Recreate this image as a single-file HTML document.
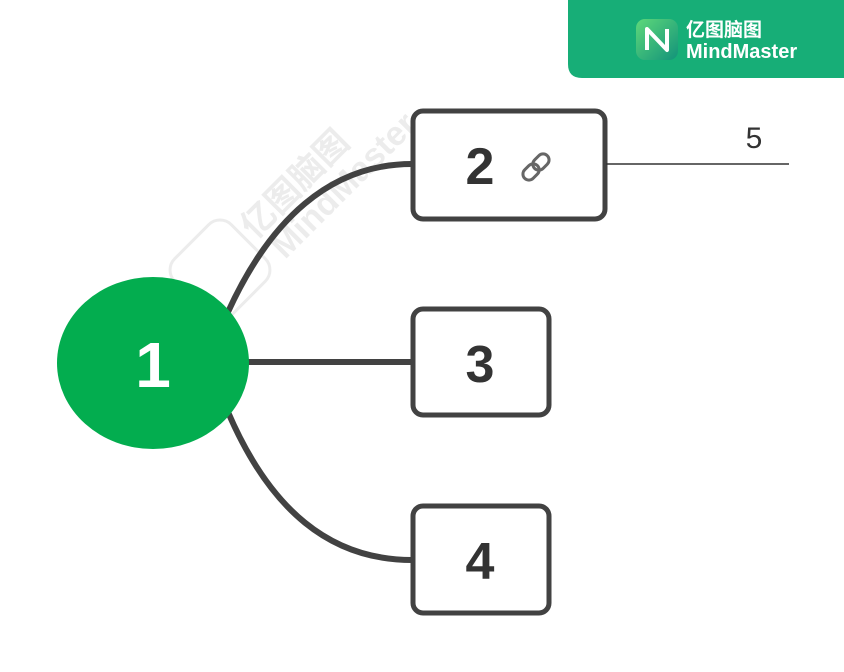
<!DOCTYPE html>
<html><head><meta charset="utf-8"><style>
html,body{margin:0;padding:0;background:#fff;width:844px;height:672px;overflow:hidden;font-family:"Liberation Sans","Noto Sans CJK SC",sans-serif}
</style></head><body>
<svg width="844" height="672" viewBox="0 0 844 672" xmlns="http://www.w3.org/2000/svg">
<!-- watermark -->
<g opacity="0.18" fill="#999" stroke="#999">
<rect x="180" y="230" width="80" height="80" rx="16" transform="rotate(-45 220 270)" fill="none" stroke-width="3"/>
<text x="0" y="0" transform="translate(255,240) rotate(-45)" font-size="34" font-weight="bold" stroke="none" font-family="Liberation Sans,'Noto Sans CJK SC',sans-serif">亿图脑图</text>
<text x="0" y="0" transform="translate(285,260) rotate(-45)" font-size="34" font-weight="bold" stroke="none">MindMaster</text>
</g>
<g fill="none" stroke="#424242" stroke-width="6" stroke-linecap="round">
<path d="M228 312 C 270 220, 330 164, 412 164"/>
<path d="M246 362 L 412 362"/>
<path d="M228 412 C 270 510, 330 560, 412 560"/>
</g>
<ellipse cx="153" cy="363" rx="96" ry="86" fill="#03ad4f"/>
<text x="153" y="387" text-anchor="middle" font-size="64" font-weight="bold" fill="#fff">1</text>
<g fill="#fff" stroke="#424242" stroke-width="5">
<rect x="413" y="111" width="192" height="108" rx="10"/>
<rect x="413" y="309" width="136" height="106" rx="10"/>
<rect x="413" y="506" width="136" height="107" rx="10"/>
</g>
<g font-size="52" font-weight="bold" fill="#333" text-anchor="middle">
<text x="480" y="184">2</text>
<text x="480" y="382">3</text>
<text x="480" y="579">4</text>
</g>
<g transform="translate(536,167) rotate(-45)" fill="none" stroke="#666" stroke-width="3">
<rect x="-16" y="-6" width="18" height="12" rx="6"/>
<rect x="-2" y="-6" width="18" height="12" rx="6"/>
</g>
<line x1="606" y1="164" x2="789" y2="164" stroke="#333" stroke-width="1.5"/>
<text x="754" y="148" text-anchor="middle" font-size="30" fill="#333">5</text>
<!-- badge -->
<path d="M568 0 H844 V78 H582 Q568 78 568 64 Z" fill="#17ae77"/>
<defs><linearGradient id="g" x1="0" y1="0" x2="1" y2="1"><stop offset="0" stop-color="#5ed87a"/><stop offset="1" stop-color="#12937a"/></linearGradient></defs>
<rect x="636" y="19" width="42" height="41" rx="9" fill="url(#g)"/>
<path d="M647 50 V29 L667 50 V29" fill="none" stroke="#fff" stroke-width="4" stroke-linejoin="round"/>
<text x="686" y="36" font-size="19" font-weight="bold" fill="#fff">亿图脑图</text>
<text x="686" y="58" font-size="20" font-weight="bold" fill="#fff">MindMaster</text>
</svg>
</body></html>
